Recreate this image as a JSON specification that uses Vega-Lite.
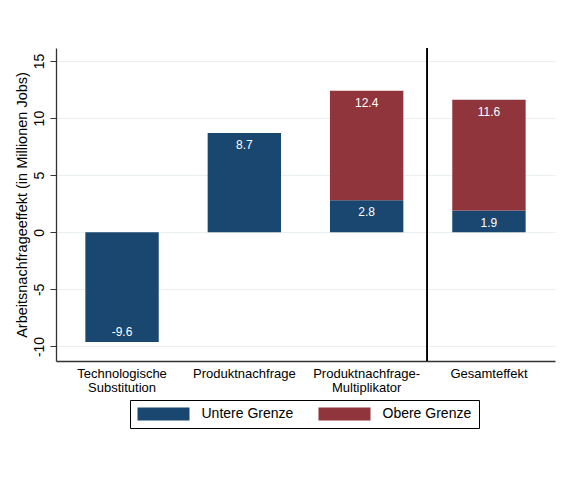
{
  "$schema": "https://vega.github.io/schema/vega-lite/v6.json",
  "background": "white",
  "autosize": "none",
  "padding": {"left": 56, "top": 48, "right": 15, "bottom": 119},
  "width": 499,
  "height": 313,
  "data": {
    "values": [
      {"Kategorie": "Technologische Substitution", "Grenze": "Untere Grenze", "von": 0, "bis": -9.6},
      {"Kategorie": "Produktnachfrage", "Grenze": "Untere Grenze", "von": 0, "bis": 8.7},
      {"Kategorie": "Produktnachfrage-Multiplikator", "Grenze": "Untere Grenze", "von": 0, "bis": 2.8},
      {"Kategorie": "Produktnachfrage-Multiplikator", "Grenze": "Obere Grenze", "von": 2.8, "bis": 12.4},
      {"Kategorie": "Gesamteffekt", "Grenze": "Untere Grenze", "von": 0, "bis": 1.9},
      {"Kategorie": "Gesamteffekt", "Grenze": "Obere Grenze", "von": 1.9, "bis": 11.6}
    ]
  },
  "encoding": {
    "x": {
      "field": "Kategorie",
      "type": "nominal",
      "sort": ["Technologische Substitution", "Produktnachfrage", "Produktnachfrage-Multiplikator", "Gesamteffekt"],
      "scale": {"paddingInner": 0.4, "paddingOuter": 0.24},
      "axis": {
        "title": null,
        "labelAngle": 0,
        "ticks": false,
        "grid": false,
        "labelFontSize": 13,
        "labelPadding": 6,
        "labelLineHeight": 14,
        "labelExpr": "datum.value == 'Technologische Substitution' ? ['Technologische', 'Substitution'] : datum.value == 'Produktnachfrage-Multiplikator' ? ['Produktnachfrage-', 'Multiplikator'] : datum.label"
      }
    }
  },
  "layer": [
    {
      "mark": {"type": "bar"},
      "encoding": {
        "y": {
          "field": "bis",
          "type": "quantitative",
          "scale": {"domain": [-11.27, 16.14], "nice": false, "zero": false},
          "axis": {
            "title": "Arbeitsnachfrageeffekt (in Millionen Jobs)",
            "values": [-10, -5, 0, 5, 10, 15],
            "labelExpr": "datum.value + ''",
            "labelAngle": 270,
            "labelAlign": "center",
            "labelBaseline": "bottom",
            "labelPadding": 4,
            "labelFontSize": 14,
            "tickSize": 6,
            "titleFontSize": 14.5,
            "titleFontWeight": "normal",
            "titlePadding": 3,
            "grid": true
          }
        },
        "y2": {"field": "von"},
        "color": {
          "field": "Grenze",
          "type": "nominal",
          "scale": {"domain": ["Untere Grenze", "Obere Grenze"], "range": ["#1a476f", "#90353b"]},
          "legend": {
            "title": null,
            "orient": "none",
            "legendX": 74,
            "legendY": 352,
            "direction": "horizontal",
            "symbolType": "M-4,-1H4V1H-4Z",
            "symbolSize": 169,
            "symbolStrokeWidth": 0,
            "symbolOffset": 19.5,
            "labelOffset": 31,
            "columnPadding": 24,
            "padding": 7,
            "strokeColor": "black",
            "fillColor": "white",
            "labelFontSize": 14,
            "labelColor": "black"
          }
        }
      }
    },
    {
      "mark": {"type": "rule", "color": "black", "strokeWidth": 1},
      "encoding": {
        "x": {"datum": "Gesamteffekt", "bandPosition": -0.342}
      }
    },
    {
      "transform": [{"filter": "datum.bis > 0"}],
      "mark": {"type": "text", "color": "white", "fontSize": 12, "baseline": "middle", "dy": 12},
      "encoding": {
        "y": {"field": "bis", "type": "quantitative"},
        "text": {"field": "bis", "type": "nominal"}
      }
    },
    {
      "transform": [{"filter": "datum.bis < 0"}],
      "mark": {"type": "text", "color": "white", "fontSize": 12, "baseline": "middle", "dy": -10},
      "encoding": {
        "y": {"field": "bis", "type": "quantitative"},
        "text": {"field": "bis", "type": "nominal"}
      }
    }
  ],
  "config": {
    "font": "Liberation Sans",
    "view": {"stroke": null},
    "axis": {
      "domainColor": "#333333",
      "domainWidth": 1.3,
      "tickColor": "#333333",
      "tickWidth": 1,
      "labelColor": "black",
      "titleColor": "black",
      "gridColor": "#eaf0f2",
      "gridWidth": 1
    }
  }
}
